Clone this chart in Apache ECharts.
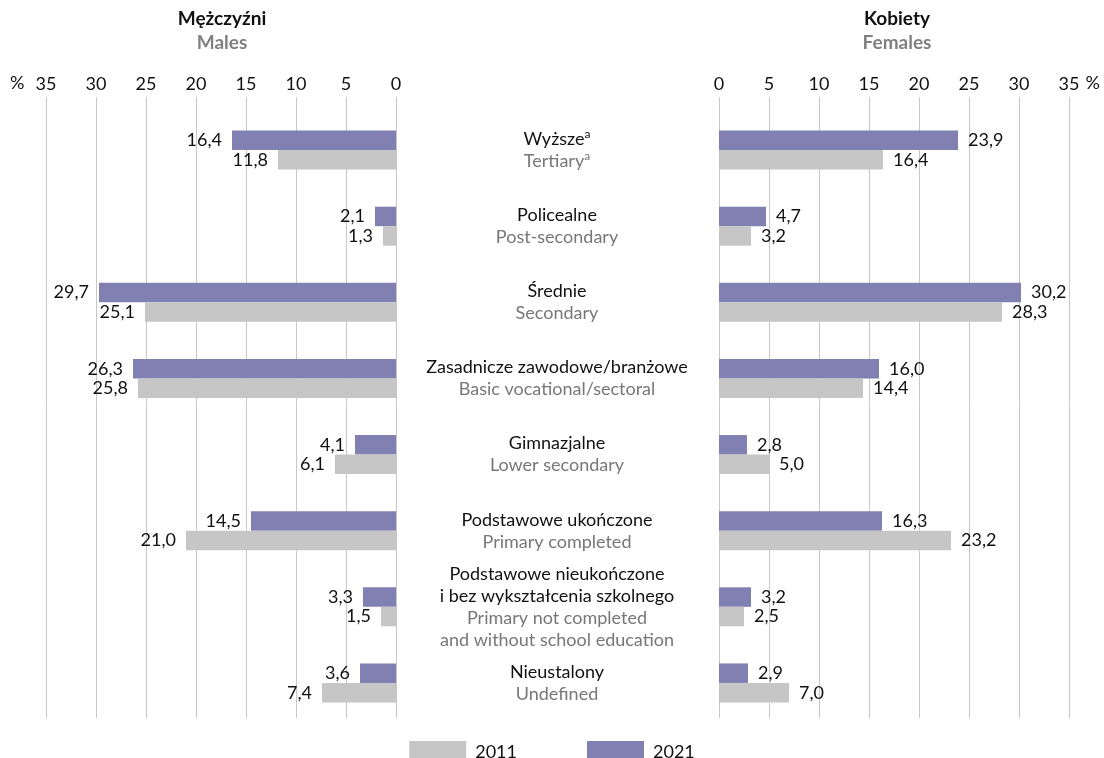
<!DOCTYPE html>
<html>
<head>
<meta charset="utf-8">
<script src="https://cdn.jsdelivr.net/npm/echarts@6/dist/echarts.min.js"></script>
<style>
  html, body { margin: 0; padding: 0; background: #fff; }
  #chart { width: 1104px; height: 758px; }
</style>
</head>
<body>
<div id="chart"></div>
<script>
// kategorie wykształcenia (PL / EN)
const categoriesPl = ['Wyższe', 'Policealne', 'Średnie', 'Zasadnicze zawodowe/branżowe', 'Gimnazjalne',
  'Podstawowe ukończone', 'Podstawowe nieukończone\ni bez wykształcenia szkolnego', 'Nieustalony'];
const categoriesEn = ['Tertiary', 'Post-secondary', 'Secondary', 'Basic vocational/sectoral', 'Lower secondary',
  'Primary completed', 'Primary not completed\nand without school education', 'Undefined'];

const males2021 = [16.4, 2.1, 29.7, 26.3, 4.1, 14.5, 3.3, 3.6];
const males2011 = [11.8, 1.3, 25.1, 25.8, 6.1, 21.0, 1.5, 7.4];
const females2021 = [23.9, 4.7, 30.2, 16.0, 2.8, 16.3, 3.2, 2.9];
const females2011 = [16.4, 3.2, 28.3, 14.4, 5.0, 23.2, 2.5, 7.0];

const tickMax = 35;
const tickStep = 5;

const FONT = 'Lato';
const FS = 18;
const PURPLE = '#8080b3';
const GREY = '#c6c6c6';

const chart = echarts.init(document.getElementById('chart'));

const fmt = p => p.value.toFixed(1).replace('.', ',');

function catLabel(value, idx) {
  const pl = categoriesPl[idx].split('\n').map(s => '{pl|' + s + '}');
  const en = categoriesEn[idx].split('\n').map(s => '{en|' + s + '}');
  if (idx === 0) {
    pl[0] += '{supPl|a}';
    en[0] += '{supEn|a}';
  }
  return pl.concat(en).join('\n');
}

const valueAxisBase = {
  type: 'value',
  min: 0,
  max: tickMax,
  interval: tickStep,
  axisLine: { show: false },
  axisTick: { show: false }
};

const catAxisBase = {
  type: 'category',
  data: categoriesPl,
  inverse: true,
  axisLine: { show: false },
  axisTick: { show: false }
};

function barSeries(name, data, color, xi, side) {
  return {
    name: name,
    type: 'bar',
    xAxisIndex: xi,
    yAxisIndex: xi,
    data: data,
    barWidth: 19.5,
    barGap: '0%',
    itemStyle: { color: color },
    label: {
      show: true,
      position: side,
      distance: 10,
      formatter: fmt,
      color: '#111',
      fontFamily: FONT,
      fontSize: FS
    }
  };
}

chart.setOption({
  animation: false,
  textStyle: { fontFamily: FONT },
  grid: [
    // tła z liniami siatki
    { left: 46, right: 708, top: 97, bottom: 40 },
    { left: 719, right: 35, top: 97, bottom: 40 },
    // słupki
    { left: 46, right: 708, top: 112, bottom: 37 },
    { left: 719, right: 35, top: 112, bottom: 37 }
  ],
  xAxis: [
    Object.assign({}, valueAxisBase, {
      gridIndex: 0, inverse: true, position: 'top',
      splitLine: { show: true, lineStyle: { color: '#c8c8c8', width: 1 } },
      axisLabel: { color: '#111', fontSize: FS, fontFamily: FONT, margin: 4 }
    }),
    Object.assign({}, valueAxisBase, {
      gridIndex: 1, position: 'top',
      splitLine: { show: true, lineStyle: { color: '#c8c8c8', width: 1 } },
      axisLabel: { color: '#111', fontSize: FS, fontFamily: FONT, margin: 4 }
    }),
    Object.assign({}, valueAxisBase, {
      gridIndex: 2, inverse: true, splitLine: { show: false }, axisLabel: { show: false }
    }),
    Object.assign({}, valueAxisBase, {
      gridIndex: 3, splitLine: { show: false }, axisLabel: { show: false }
    })
  ],
  yAxis: [
    Object.assign({}, catAxisBase, { gridIndex: 0, axisLabel: { show: false } }),
    Object.assign({}, catAxisBase, { gridIndex: 1, axisLabel: { show: false } }),
    Object.assign({}, catAxisBase, { gridIndex: 2, axisLabel: { show: false } }),
    Object.assign({}, catAxisBase, {
      gridIndex: 3,
      axisLabel: {
        show: true,
        align: 'center',
        margin: 162,
        formatter: catLabel,
        rich: {
          pl: { color: '#111', fontSize: FS, fontFamily: FONT, lineHeight: 22 },
          en: { color: '#777', fontSize: FS, fontFamily: FONT, lineHeight: 22 },
          supPl: { color: '#111', fontSize: 12, fontFamily: FONT, lineHeight: 22, verticalAlign: 'top', padding: [0, 0, 6, 0] },
          supEn: { color: '#777', fontSize: 12, fontFamily: FONT, lineHeight: 22, verticalAlign: 'top', padding: [0, 0, 6, 0] }
        }
      }
    })
  ],
  legend: {
    top: 736,
    left: 'center',
    itemWidth: 57,
    itemHeight: 22,
    itemGap: 70,
    icon: 'rect',
    data: ['2011', '2021'],
    textStyle: { color: '#111', fontSize: FS, fontFamily: FONT, padding: [0, 0, 0, 4] }
  },
  graphic: [
    { type: 'text', left: 10, top: 74, style: { text: '%', fontSize: FS, fontFamily: FONT, fill: '#111' } },
    { type: 'text', right: 4, top: 74, style: { text: '%', fontSize: FS, fontFamily: FONT, fill: '#111' } },
    { type: 'text', x: 222, y: 9, style: { text: 'Mężczyźni', align: 'center', fontSize: 19, fontWeight: 'bold', fontFamily: FONT, fill: '#111' } },
    { type: 'text', x: 222, y: 33, style: { text: 'Males', align: 'center', fontSize: 19, fontWeight: 'bold', fontFamily: FONT, fill: '#808080' } },
    { type: 'text', x: 897, y: 9, style: { text: 'Kobiety', align: 'center', fontSize: 19, fontWeight: 'bold', fontFamily: FONT, fill: '#111' } },
    { type: 'text', x: 897, y: 33, style: { text: 'Females', align: 'center', fontSize: 19, fontWeight: 'bold', fontFamily: FONT, fill: '#808080' } }
  ],
  series: [
    barSeries('2021', males2021, PURPLE, 2, 'left'),
    barSeries('2011', males2011, GREY, 2, 'left'),
    barSeries('2021', females2021, PURPLE, 3, 'right'),
    barSeries('2011', females2011, GREY, 3, 'right')
  ]
});
</script>
</body>
</html>
